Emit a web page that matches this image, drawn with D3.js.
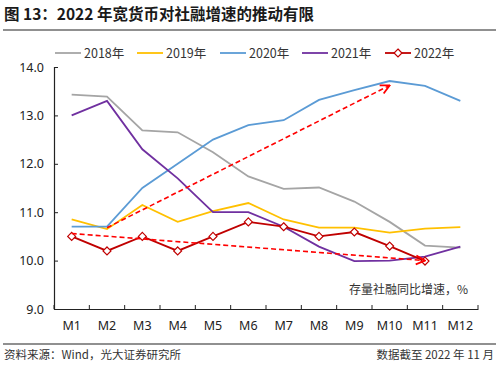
<!DOCTYPE html>
<html>
<head>
<meta charset="utf-8">
<script src="https://cdn.jsdelivr.net/npm/d3@7"></script>
<style>
body{margin:0;background:#fff;}
svg{display:block;font-family:"Noto Sans CJK SC","Noto Sans",sans-serif;}
</style>
</head>
<body>
<svg width="500" height="366"></svg>
<script>
var months = ["M1","M2","M3","M4","M5","M6","M7","M8","M9","M10","M11","M12"]
var yTicks = [9,10,11,12,13,14]

var s2018 = [13.43,13.39,12.69,12.65,12.24,11.74,11.48,11.51,11.22,10.80,10.31,10.27]
var s2019 = [10.85,10.65,11.15,10.80,11.02,11.19,10.85,10.68,10.68,10.58,10.66,10.69]
var s2020 = [10.70,10.70,11.50,12.00,12.50,12.80,12.90,13.32,13.52,13.71,13.61,13.30]
var s2021 = [13.00,13.30,12.30,11.70,11.00,11.00,10.70,10.29,9.99,10.00,10.08,10.29]
var s2022 = [10.50,10.20,10.50,10.20,10.50,10.80,10.70,10.50,10.59,10.30,9.99]

var seriesNames = ["2018年","2019年","2020年","2021年","2022年"]
var seriesColors = ["#A5A5A5","#FFC000","#5B9BD5","#7030A0","#C00000"]

// trend arrows (month, value)
var arrows = [
  {from:["M2",10.68], to:["M10",13.62]},
  {from:["M1",10.56], to:["M11",10.0]}
]

var svg = d3.select("svg")
var margin = {left:54, right:22, top:67, bottom:57}
var W = 500, H = 366

var x = d3.scaleBand().domain(months).range([margin.left, W-margin.right])
var y = d3.scaleLinear().domain([9,14]).range([H-margin.bottom, margin.top])

// title
svg.append("text").attr("x",4).attr("y",20)
   .attr("font-size",15.5).attr("font-weight","bold").attr("fill","#1a1a1a")
   .text("图 13：2022 年宽货币对社融增速的推动有限")
svg.append("line").attr("x1",3).attr("x2",496).attr("y1",30).attr("y2",30)
   .attr("stroke","#222").attr("stroke-width",1.2)

// axes
var yAxis = svg.append("g").attr("transform","translate("+margin.left+",0)")
   .call(d3.axisLeft(y).tickValues(yTicks).tickFormat(d3.format(".1f")).tickSize(-4).tickPadding(10))
var xAxis = svg.append("g").attr("transform","translate(0,"+(H-margin.bottom)+")")
   .call(d3.axisBottom(x).tickSize(0).tickPadding(12))
xAxis.selectAll(".tick line").remove()
xAxis.selectAll(".boundary").data(months.concat(["end"])).enter().append("line")
   .attr("x1",function(d,i){return margin.left + i*x.step()})
   .attr("x2",function(d,i){return margin.left + i*x.step()})
   .attr("y1",0).attr("y2",-4).attr("stroke","#222")
svg.selectAll(".domain").attr("stroke","#222").attr("stroke-width",1.2)
svg.selectAll(".tick text").attr("font-size",12.5).attr("fill","#222")
   .attr("font-family","'Noto Sans','DejaVu Sans',sans-serif")
yAxis.selectAll(".tick line").attr("stroke","#222")

var line = d3.line()
   .x(function(d,i){return x(months[i]) + x.bandwidth()/2})
   .y(function(d){return y(d)})

var allSeries = [s2018,s2019,s2020,s2021,s2022]
allSeries.forEach(function(s,k){
  svg.append("path").datum(s).attr("d",line)
     .attr("fill","none").attr("stroke",seriesColors[k]).attr("stroke-width",1.8)
})

// markers for 2022
var diamond = d3.symbol().type(d3.symbolDiamond2).size(40)
svg.selectAll(".m22").data(s2022).enter().append("path")
   .attr("d",diamond)
   .attr("transform",function(d,i){return "translate("+(x(months[i])+x.bandwidth()/2)+","+y(d)+")"})
   .attr("fill","#fff").attr("stroke","#C00000").attr("stroke-width",1.2)

// arrows
svg.append("defs").append("marker").attr("id","ah")
   .attr("viewBox","0 0 10 10").attr("refX",9).attr("refY",5)
   .attr("markerWidth",7).attr("markerHeight",7).attr("orient","auto")
   .append("path").attr("d","M1,1 L9,5 L1,9").attr("fill","none")
   .attr("stroke","#FF0000").attr("stroke-width",1.6)
arrows.forEach(function(a){
  svg.append("line")
     .attr("x1",x(a.from[0])+x.bandwidth()/2).attr("y1",y(a.from[1]))
     .attr("x2",x(a.to[0])+x.bandwidth()/2).attr("y2",y(a.to[1]))
     .attr("stroke","#FF0000").attr("stroke-width",1.6)
     .attr("stroke-dasharray","5,3").attr("marker-end","url(#ah)")
})

// annotation
svg.append("text").attr("x",468).attr("y",294).attr("text-anchor","end")
   .attr("font-size",12).attr("fill","#333").text("存量社融同比增速，%")

// legend
var legX = [55,137,220,302,385]
seriesNames.forEach(function(n,k){
  var g = svg.append("g").attr("transform","translate("+legX[k]+",53)")
  g.append("line").attr("x1",0).attr("x2",26).attr("stroke",seriesColors[k]).attr("stroke-width",1.8)
  if(k==4){
    g.append("path").attr("d",diamond).attr("transform","translate(13,0)")
     .attr("fill","#fff").attr("stroke","#C00000").attr("stroke-width",1.2)
  }
  g.append("text").attr("x",29).attr("y",4.5).attr("font-size",12.5).attr("fill","#333").text(n)
})

// footer
svg.append("line").attr("x1",3).attr("x2",496).attr("y1",344).attr("y2",344)
   .attr("stroke","#222").attr("stroke-width",1.2)
svg.append("text").attr("x",4).attr("y",359).attr("font-size",11.5).attr("fill","#333")
   .text("资料来源：Wind，光大证券研究所")
svg.append("text").attr("x",494).attr("y",359).attr("text-anchor","end").attr("font-size",11.5).attr("fill","#333")
   .text("数据截至 2022 年 11 月")
</script>
</body>
</html>
